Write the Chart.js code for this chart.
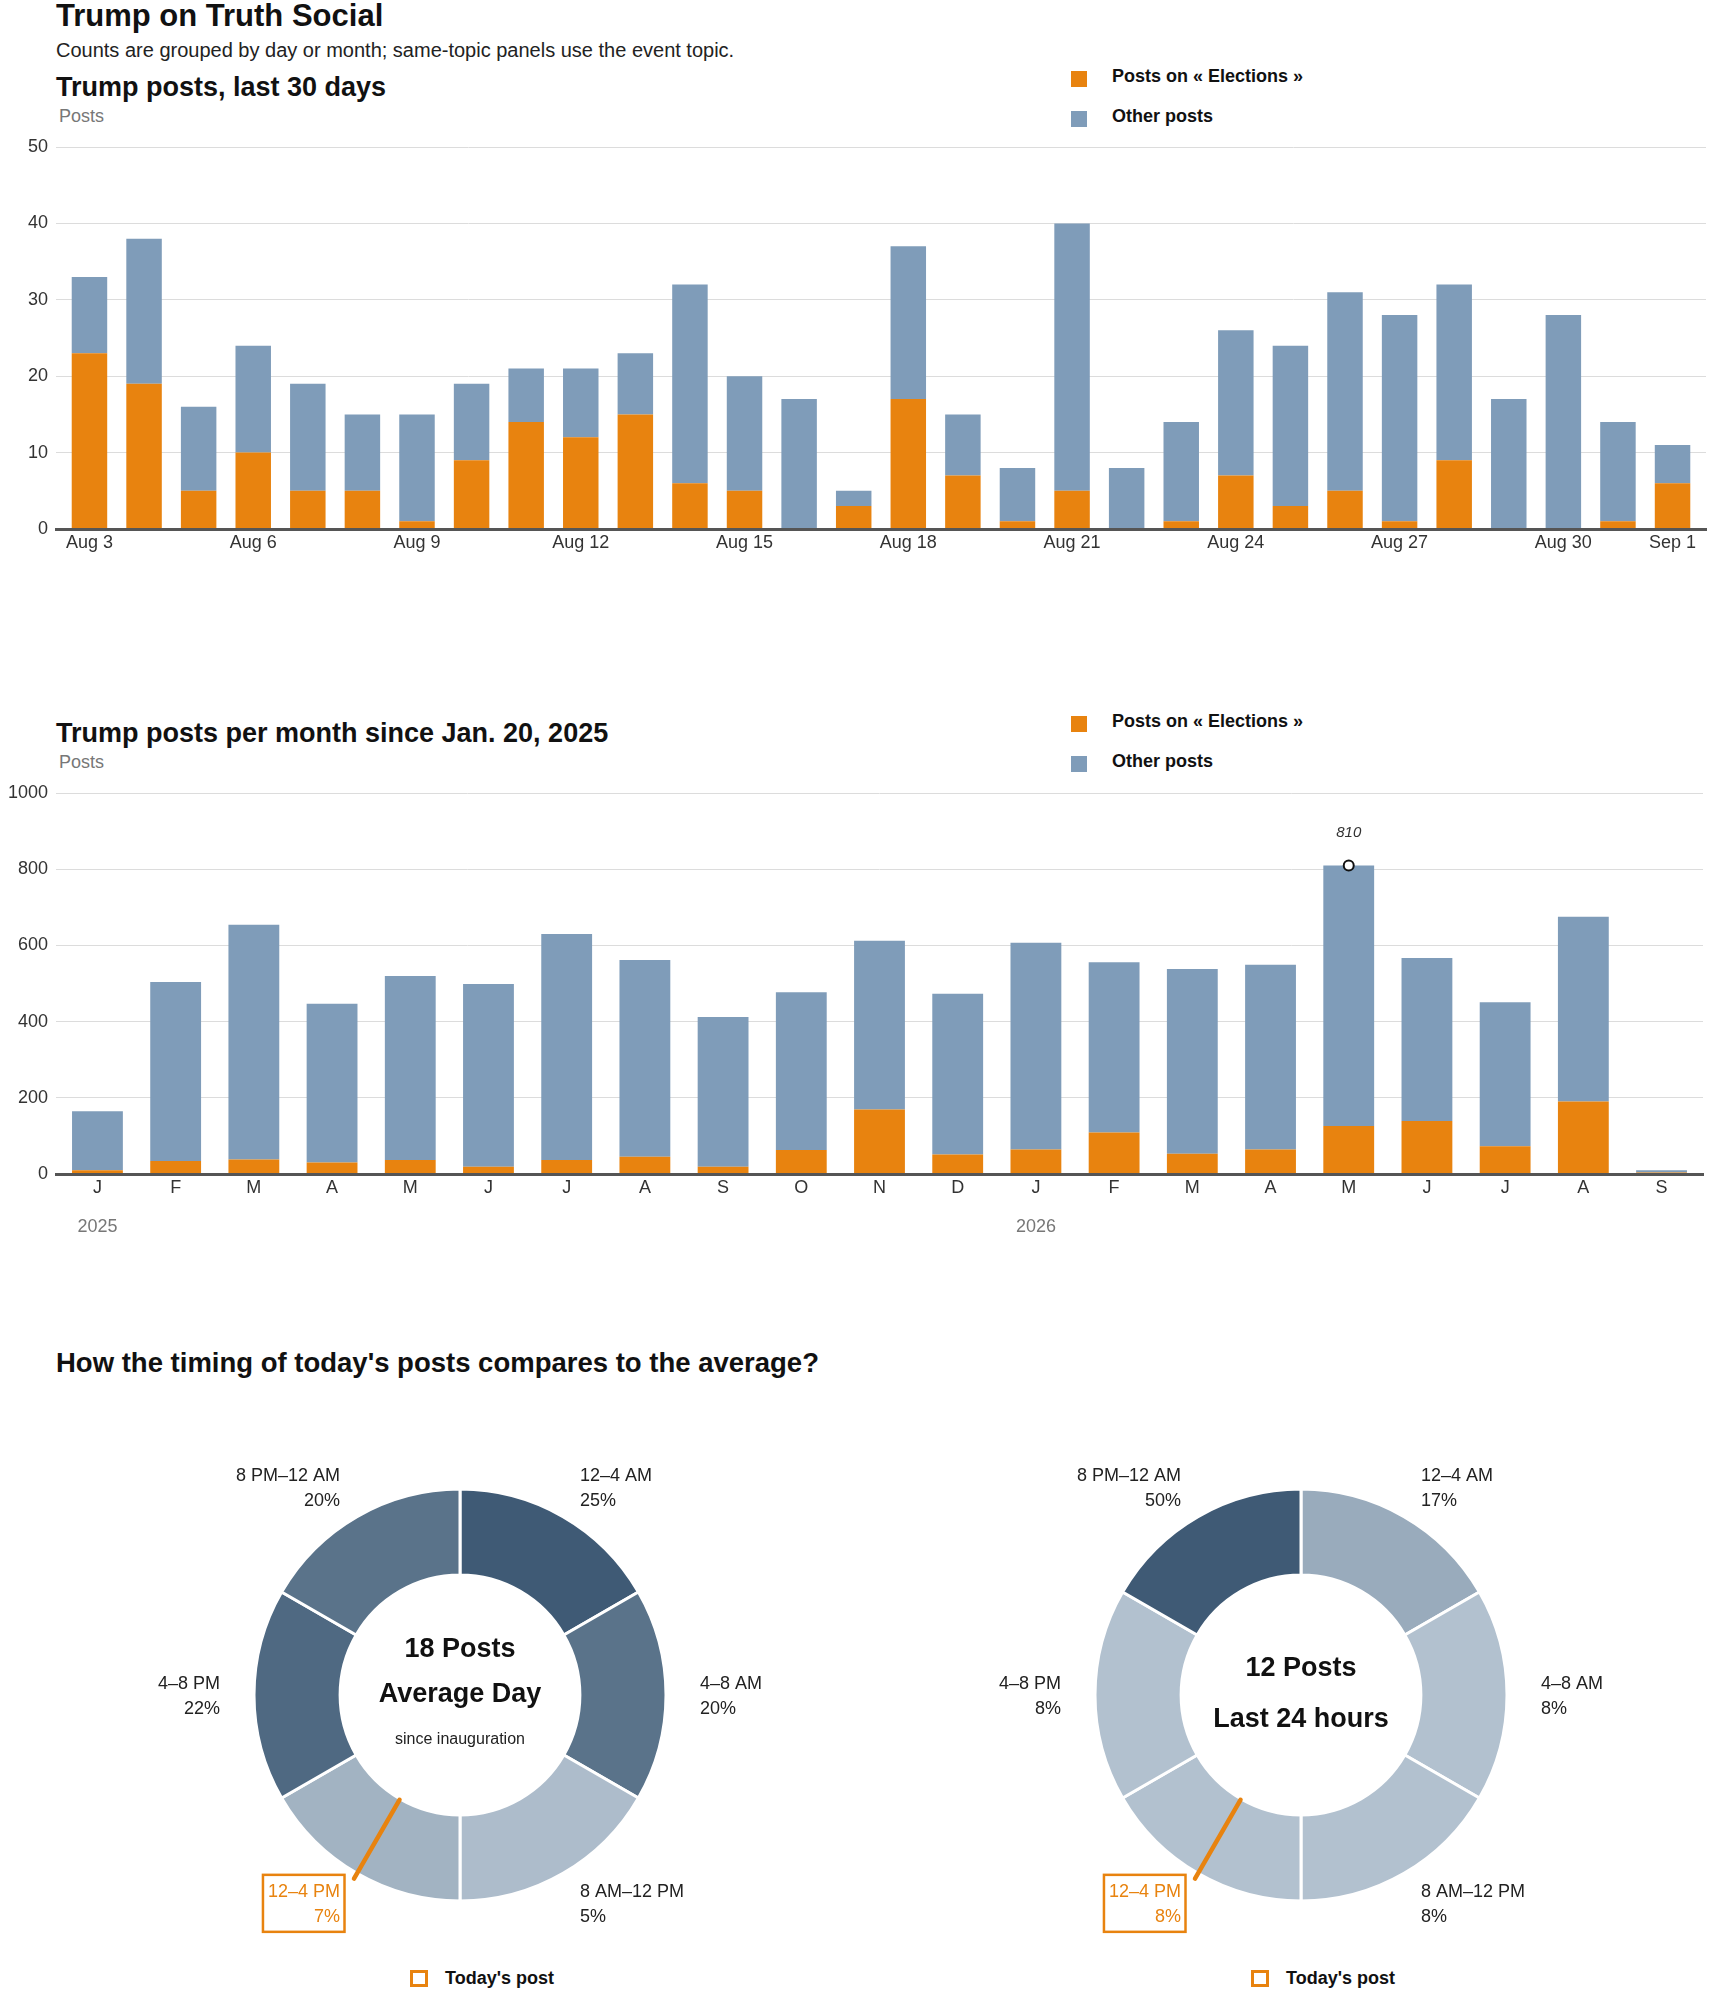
<!DOCTYPE html>
<html>
<head>
<meta charset="utf-8">
<script src="https://cdn.jsdelivr.net/npm/chart.js@4.4.1/dist/chart.umd.min.js"></script>
<style>
html,body{margin:0;padding:0;background:#fff;}
body{width:1710px;height:1993px;position:relative;overflow:hidden;font-family:"Liberation Sans",Arial,sans-serif;color:#111;}
.abs{position:absolute;white-space:nowrap;line-height:1;}
.h1{font-weight:700;font-size:31px;left:56px;top:0px;color:#111;}
.sub{font-size:20px;left:56px;top:40px;color:#222;}
.h2{font-weight:700;font-size:27px;left:56px;color:#111;}
.axt{font-size:18px;color:#777;left:59px;}
.leg{position:absolute;left:1071px;height:16px;white-space:nowrap;}
.leg i{position:absolute;left:0;top:0;width:16px;height:16px;}
.leg span{position:absolute;left:41px;top:-3px;font-weight:700;font-size:18px;line-height:16px;color:#111;}
.tleg{position:absolute;height:18px;white-space:nowrap;}
.tleg i{position:absolute;left:0;top:0;width:18px;height:17px;box-sizing:border-box;border:3px solid #e8830f;background:#fff;}
.tleg span{position:absolute;left:35px;top:0px;font-weight:700;font-size:18px;line-height:17px;color:#111;}
canvas{position:absolute;}
</style>
</head>
<body>
<div class="abs h1">Trump on Truth Social</div>
<div class="abs sub">Counts are grouped by day or month; same-topic panels use the event topic.</div>

<div class="abs h2" style="top:73.5px">Trump posts, last 30 days</div>
<div class="abs axt" style="top:106.7px">Posts</div>
<div id="leg1"></div>
<canvas id="c1" width="1710" height="440" style="left:0;top:127px;width:1710px;height:440px"></canvas>

<div class="abs h2" style="top:719.5px">Trump posts per month since Jan. 20, 2025</div>
<div class="abs axt" style="top:752.7px">Posts</div>
<div id="leg2"></div>
<canvas id="c2" width="1710" height="467" style="left:0;top:773px;width:1710px;height:467px"></canvas>

<div class="abs h2" style="top:1348.5px;font-size:27.5px">How the timing of today's posts compares to the average?</div>
<canvas id="d1" width="700" height="500" style="left:110px;top:1445px;width:700px;height:500px"></canvas>
<canvas id="d2" width="700" height="500" style="left:951px;top:1445px;width:700px;height:500px"></canvas>
<div class="tleg" style="left:410px;top:1970px"><i></i><span>Today's post</span></div>
<div class="tleg" style="left:1251px;top:1970px"><i></i><span>Today's post</span></div>

<script>
// ---------------- DATA ----------------
const seriesNames = ['Posts on « Elections »', 'Other posts'];

const days = ['Aug 3','Aug 4','Aug 5','Aug 6','Aug 7','Aug 8','Aug 9','Aug 10','Aug 11','Aug 12',
  'Aug 13','Aug 14','Aug 15','Aug 16','Aug 17','Aug 18','Aug 19','Aug 20','Aug 21','Aug 22',
  'Aug 23','Aug 24','Aug 25','Aug 26','Aug 27','Aug 28','Aug 29','Aug 30','Aug 31','Sep 1'];
const dayElections = [23,19,5,10,5,5,1,9,14,12,15,6,5,0,3,17,7,1,5,0,1,7,3,5,1,9,0,0,1,6];
const dayOther     = [10,19,11,14,14,10,14,10,7,9,8,26,15,17,2,20,8,7,35,8,13,19,21,26,27,23,17,28,13,5];
const dayTicks = [0,10,20,30,40,50];

const months = ['J','F','M','A','M','J','J','A','S','O','N','D','J','F','M','A','M','J','J','A','S'];
const monthYears = ['2025','','','','','','','','','','','','2026','','','','','','','',''];
const monthElections = [10,34,38,30,37,19,37,45,19,63,169,51,64,109,53,64,126,139,73,190,4];
const monthOther     = [155,470,616,417,483,480,593,517,393,414,443,422,543,447,485,485,684,428,378,485,6];
const monthTicks = [0,200,400,600,800,1000];

const timeBlocks = ['12–4 AM','4–8 AM','8 AM–12 PM','12–4 PM','4–8 PM','8 PM–12 AM'];
const blockHours = [4,4,4,4,4,4];
const avgShare   = [25,20,5,7,22,20];
const todayShare = [17,8,8,8,8,50];
const todayBlock = '12–4 PM';
const avgCenter   = ['18 Posts','Average Day','since inauguration'];
const todayCenter = ['12 Posts','Last 24 hours'];

// ---------------- STYLE ----------------
const ORANGE = '#e8830f', BLUE = '#7f9cb9';
const FONT = '"Liberation Sans", Arial, sans-serif';
Chart.defaults.font.family = FONT;
Chart.defaults.color = '#333';

function buildLegend(id, top){
  const el = document.getElementById(id);
  [ORANGE, BLUE].forEach((c, i) => {
    const d = document.createElement('div');
    d.className = 'leg';
    d.style.top = (top + i*40) + 'px';
    d.innerHTML = '<i style="background:' + c + '"></i><span></span>';
    d.querySelector('span').textContent = seriesNames[i];
    el.appendChild(d);
  });
}
buildLegend('leg1', 71);
buildLegend('leg2', 716);

// extra outer padding (in category units) on a category axis
function outerPad(k){
  return function(scale){ scale._startValue -= k; scale._valueRange += 2*k; };
}

const peakLabelPlugin = {
  id: 'peakLabel',
  afterDatasetsDraw(chart){
    chart.data.datasets.forEach((ds, di) => {
      if (!ds.peakLabel) return;
      const meta = chart.getDatasetMeta(di);
      meta.data.forEach((pt, i) => {
        const v = ds.data[i];
        if (v == null) return;
        const ctx = chart.ctx;
        ctx.save();
        ctx.font = 'italic 15px ' + FONT;
        ctx.fillStyle = '#333';
        ctx.textAlign = 'center';
        ctx.textBaseline = 'middle';
        ctx.fillText(String(v), pt.x, pt.y - 33);
        ctx.restore();
      });
    });
  }
};

function barChart(id, labels, elections, other, ticks, opt){
  const datasets = [
    {label: seriesNames[0], data: elections, backgroundColor: ORANGE, borderWidth: 0, stack: 's'},
    {label: seriesNames[1], data: other, backgroundColor: BLUE, borderWidth: 0, stack: 's'}
  ];
  if (opt.peak){
    const totals = elections.map((v, i) => v + other[i]);
    const mx = Math.max(...totals);
    const pi = totals.indexOf(mx);
    datasets.push({type: 'line', peakLabel: true, order: -1, data: totals.map((v, i) => i === pi ? v : null),
      showLine: false, pointRadius: 5, pointBorderWidth: 2, pointBorderColor: '#111',
      pointBackgroundColor: '#fff', stack: 'peak', clip: false});
  }
  const scales = {
    x: {
      type: 'category', stacked: true, offset: true,
      grid: {display: false, drawTicks: false},
      border: {display: true, color: '#555', width: 3, z: 1},
      ticks: {autoSkip: false, maxRotation: 0, padding: 3, color: '#333', font: {size: 18},
        callback: opt.tickCb},
      afterBuildTicks: outerPad(opt.pad),
      afterFit: s => { s.height = opt.xh; }
    },
    y: {
      min: ticks[0], max: ticks[ticks.length-1], stacked: true,
      afterBuildTicks: s => { s.ticks = ticks.map(v => ({value: v})); },
      grid: {color: '#dcdcdc', lineWidth: 1, drawTicks: false},
      border: {display: false},
      ticks: {padding: 8, color: '#333', font: {size: 18}, callback: v => String(v)},
      afterFit: s => { s.width = 56; }
    }
  };
  if (opt.years){
    scales.year = {
      type: 'category', position: 'bottom', axis: 'x', weight: 1, labels: opt.years, offset: true,
      grid: {display: false, drawTicks: false}, border: {display: false},
      ticks: {autoSkip: false, maxRotation: 0, padding: 12, color: '#777', font: {size: 18}},
      afterBuildTicks: outerPad(opt.pad),
      afterFit: s => { s.height = 36; }
    };
  }
  return new Chart(document.getElementById(id), {
    type: 'bar',
    data: {labels, datasets},
    options: {
      responsive: false, animation: false, events: [],
      datasets: {bar: {barPercentage: 0.65, categoryPercentage: 1}},
      layout: {padding: {top: 20, right: 4, left: 0, bottom: 0}},
      plugins: {legend: {display: false}, tooltip: {enabled: false}},
      scales
    },
    plugins: [peakLabelPlugin]
  });
}

barChart('c1', days, dayElections, dayOther, dayTicks, {
  pad: 0.113, xh: 38,
  tickCb: function(v, i, t){ return (i % 3 === 0 || i === t.length - 1) ? this.getLabelForValue(v) : ''; }
});
barChart('c2', months, monthElections, monthOther, monthTicks, {
  pad: 0.03, xh: 30, years: monthYears, peak: true,
  tickCb: function(v){ return this.getLabelForValue(v); }
});

// ---------------- DONUTS ----------------
const LIGHT = [200,213,224], DARK = [63,90,117];
function shade(t){
  const c = LIGHT.map((l, i) => Math.round(l + (DARK[i] - l) * t));
  return 'rgb(' + c.join(',') + ')';
}

const donutPlugin = {
  id: 'donutText',
  afterDraw(chart, args, opts){
    const ctx = chart.ctx;
    const arcs = chart.getDatasetMeta(0).data;
    const labels = chart.data.labels;
    let cx = 0, cy = 0;
    arcs.forEach((arc, i) => {
      const p = arc.getProps(['x','y','startAngle','endAngle','innerRadius','outerRadius'], true);
      cx = p.x; cy = p.y;
      const mid = (p.startAngle + p.endAngle) / 2;
      const cos = Math.cos(mid), sin = Math.sin(mid);
      const ax = p.x + cos * 240, ay = p.y + sin * 240;
      const isToday = labels[i] === opts.today;
      const align = cos > 0.01 ? 'left' : (cos < -0.01 ? 'right' : 'center');
      const lines = [labels[i], opts.shares[i] + '%'];
      ctx.save();
      ctx.font = '18px ' + FONT;
      ctx.fillStyle = isToday ? ORANGE : '#222';
      ctx.textAlign = align;
      ctx.textBaseline = 'alphabetic';
      ctx.fillText(lines[0], ax, ay - 6);
      ctx.fillText(lines[1], ax, ay + 19);
      if (isToday){
        const w = Math.max(...lines.map(l => ctx.measureText(l).width));
        const left = align === 'right' ? ax - w : (align === 'left' ? ax : ax - w/2);
        ctx.strokeStyle = ORANGE;
        ctx.lineWidth = 2.5;
        ctx.strokeRect(left - 5, ay - 28, w + 9.5, 57);
        // today's-post tick across the ring
        ctx.beginPath();
        ctx.lineCap = 'round';
        ctx.lineWidth = 4.5;
        ctx.moveTo(p.x + cos * 121, p.y + sin * 121);
        ctx.lineTo(p.x + cos * 212, p.y + sin * 212);
        ctx.stroke();
      }
      ctx.restore();
    });
    // center text
    ctx.save();
    ctx.textAlign = 'center';
    ctx.textBaseline = 'alphabetic';
    opts.center.forEach((c) => {
      ctx.font = (c.bold ? '700 ' : '') + c.size + 'px ' + FONT;
      ctx.fillStyle = c.bold ? '#111' : '#222';
      ctx.fillText(c.text, cx, cy + c.dy);
    });
    ctx.restore();
  }
};

function donut(id, shares, center){
  const mx = Math.max(...shares);
  return new Chart(document.getElementById(id), {
    type: 'doughnut',
    data: {labels: timeBlocks, datasets: [{
      data: blockHours,
      backgroundColor: shares.map(s => shade(s / mx)),
      borderColor: '#fff', borderWidth: 3, hoverOffset: 0
    }]},
    options: {
      responsive: false, animation: false, events: [],
      radius: 206, cutout: '58.2%', rotation: 0,
      layout: {padding: 0},
      plugins: {legend: {display: false}, tooltip: {enabled: false},
        donutText: {shares, today: todayBlock, center}}
    },
    plugins: [donutPlugin]
  });
}

donut('d1', avgShare, [
  {text: avgCenter[0], size: 27, bold: true, dy: -38.5},
  {text: avgCenter[1], size: 27, bold: true, dy: 6.5},
  {text: avgCenter[2], size: 16, bold: false, dy: 48.5}
]);
donut('d2', todayShare, [
  {text: todayCenter[0], size: 27, bold: true, dy: -19.5},
  {text: todayCenter[1], size: 27, bold: true, dy: 31.8}
]);
</script>
</body>
</html>
